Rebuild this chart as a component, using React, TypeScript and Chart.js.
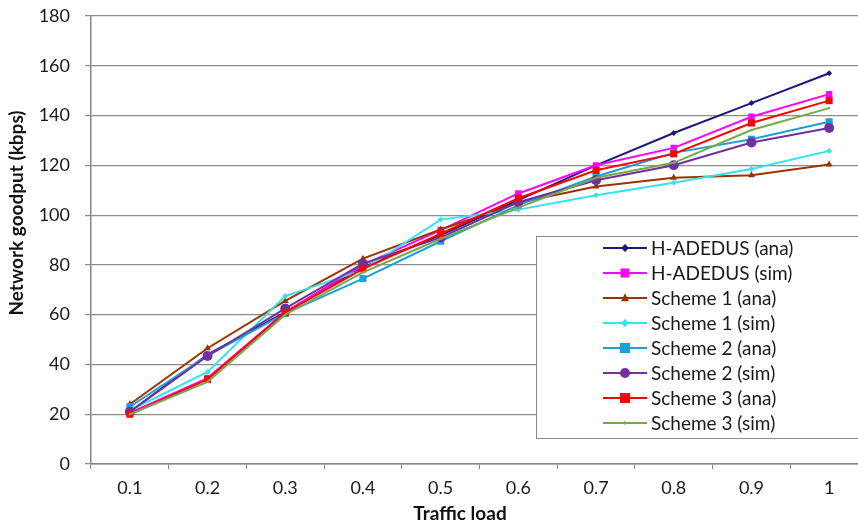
import React, { useEffect, useRef } from "react";
import { Chart, registerables } from "chart.js";

Chart.register(...registerables);

const categories = ["0.1", "0.2", "0.3", "0.4", "0.5", "0.6", "0.7", "0.8", "0.9", "1"];

const hAdedusAna = [21, 44, 61, 79, 92, 106, 120, 133, 145, 157];
const hAdedusSim = [20.5, 34.5, 61, 80, 94, 108.7, 120, 127, 139.5, 148.6];
const scheme1Ana = [24, 46.5, 65.5, 82.5, 94.2, 105, 111.5, 115, 116, 120.3];
const scheme1Sim = [21.5, 37, 67.5, 78, 98.2, 102.2, 108, 113, 118.5, 125.8];
const scheme2Ana = [23, 43.5, 60.5, 74.5, 89.5, 104, 115.5, 125, 130.5, 137.5];
const scheme2Sim = [21, 43.4, 62.5, 80.5, 91, 105.2, 114, 120, 129.2, 135];
const scheme3Ana = [20, 34, 60.8, 78.4, 92.5, 106.8, 118, 124.6, 137, 146];
const scheme3Sim = [20, 33, 60, 77, 90.5, 103, 115, 121, 134.2, 143];

const yMin = 0;
const yMax = 180;
const yStep = 20;

const seriesNames = [
  "H-ADEDUS (ana)",
  "H-ADEDUS (sim)",
  "Scheme 1 (ana)",
  "Scheme 1 (sim)",
  "Scheme 2 (ana)",
  "Scheme 2 (sim)",
  "Scheme 3 (ana)",
  "Scheme 3 (sim)",
];
const seriesValues = [hAdedusAna, hAdedusSim, scheme1Ana, scheme1Sim, scheme2Ana, scheme2Sim, scheme3Ana, scheme3Sim];
const seriesColors = ["#1a1a7a", "#ff00ff", "#993300", "#33e3ee", "#1e9fda", "#7030a0", "#ff0000", "#77a84e"];
const seriesStyles = ["rectRot", "rect", "triangle", "rectRot", "rect", "circle", "rect", "rectRot"];
const seriesRadius = [3, 4.5, 4, 3, 5, 5, 5, 1.5];

const FONT = "Lato, 'Open Sans', sans-serif";

function drawMarker(ctx: CanvasRenderingContext2D, style: string, x: number, y: number, r: number, color: string) {
  ctx.save();
  ctx.fillStyle = color;
  ctx.strokeStyle = color;
  ctx.beginPath();
  if (style === "rect") {
    ctx.rect(x - r, y - r, 2 * r, 2 * r);
  } else if (style === "rectRot") {
    const d = r * 1.3;
    ctx.moveTo(x, y - d);
    ctx.lineTo(x + d, y);
    ctx.lineTo(x, y + d);
    ctx.lineTo(x - d, y);
    ctx.closePath();
  } else if (style === "triangle") {
    ctx.moveTo(x, y - r * 1.2);
    ctx.lineTo(x + r, y + r * 0.8);
    ctx.lineTo(x - r, y + r * 0.8);
    ctx.closePath();
  } else {
    ctx.arc(x, y, r, 0, Math.PI * 2);
  }
  ctx.fill();
  ctx.restore();
}

const customPlugin = {
  id: "customDecor",
  afterDraw(chart: any) {
    const ctx: CanvasRenderingContext2D = chart.ctx;
    const ca = chart.chartArea;
    ctx.save();
    // axis titles
    ctx.fillStyle = "#111";
    ctx.font = `bold 19px ${FONT}`;
    ctx.textAlign = "center";
    ctx.textBaseline = "middle";
    ctx.fillText("Traffic load", 460, 514);
    ctx.save();
    ctx.translate(17, 213);
    ctx.rotate(-Math.PI / 2);
    ctx.fillText("Network goodput (kbps)", 0, 0);
    ctx.restore();

    // legend box
    const lx = ca.left + 445;
    const ly = 236;
    ctx.fillStyle = "#ffffff";
    ctx.fillRect(lx, ly, 340, 202);
    ctx.strokeStyle = "#8a8a8a";
    ctx.lineWidth = 1;
    ctx.strokeRect(lx + 0.5, ly + 0.5, 340, 202);
    chart.data.datasets.forEach((ds: any, i: number) => {
      const y = ly + 12 + i * 25;
      ctx.strokeStyle = ds.borderColor;
      ctx.lineWidth = 2;
      ctx.beginPath();
      ctx.moveTo(lx + 67, y);
      ctx.lineTo(lx + 111, y);
      ctx.stroke();
      drawMarker(ctx, ds.pointStyle, lx + 89, y, ds.pointRadius, ds.borderColor);
      ctx.fillStyle = "#1a1a1a";
      ctx.font = `19px ${FONT}`;
      ctx.textAlign = "left";
      ctx.textBaseline = "middle";
      ctx.fillText(ds.label, lx + 115, y + 1);
    });
    ctx.restore();
  },
};

export default function App() {
  const ref = useRef<HTMLCanvasElement | null>(null);
  useEffect(() => {
    document.body.style.margin = "0";
    document.body.style.overflow = "hidden";
    if (!ref.current) return;
    const n = seriesNames.length;
    const chart = new Chart(ref.current, {
      type: "line",
      data: {
        labels: categories,
        datasets: seriesNames.map((name, i) => ({
          label: name,
          data: seriesValues[i],
          borderColor: seriesColors[i],
          backgroundColor: seriesColors[i],
          pointStyle: seriesStyles[i] as any,
          pointRadius: seriesRadius[i],
          pointBorderWidth: 0,
          borderWidth: 2,
          tension: 0,
          order: n - i,
        })),
      },
      options: {
        responsive: false,
        animation: false,
        layout: { padding: { left: 0, right: 10, top: 16, bottom: 0 } },
        plugins: {
          legend: { display: false },
          tooltip: { enabled: false },
          title: { display: false },
        },
        scales: {
          x: {
            type: "category",
            offset: true,
            grid: {
              offset: true,
              drawOnChartArea: false,
              drawTicks: true,
              tickLength: 5,
              color: "#868686",
            },
            border: { display: true, color: "#868686", width: 1.5 },
            ticks: {
              color: "#1a1a1a",
              font: { family: FONT, size: 18 },
              padding: 8,
              maxRotation: 0,
            },
            afterFit: (s: any) => {
              s.height = 63;
            },
          },
          y: {
            min: yMin,
            max: yMax,
            ticks: {
              stepSize: yStep,
              color: "#1a1a1a",
              font: { family: FONT, size: 18 },
              padding: 15,
            },
            grid: {
              color: "#8c8c8c",
              lineWidth: 1.2,
              tickLength: 6,
              drawTicks: true,
            },
            border: { display: true, color: "#868686", width: 1.5 },
            afterFit: (s: any) => {
              s.width = 91;
              s.paddingTop = 0;
              s.paddingBottom = 0;
            },
          },
        },
      },
      plugins: [customPlugin],
    });
    return () => chart.destroy();
  }, []);

  return (
    <div style={{ position: "fixed", left: 0, top: 0, width: 858, height: 527, overflow: "hidden", background: "#fff" }}>
      <canvas ref={ref} width={878} height={527} style={{ display: "block" }} />
    </div>
  );
}
